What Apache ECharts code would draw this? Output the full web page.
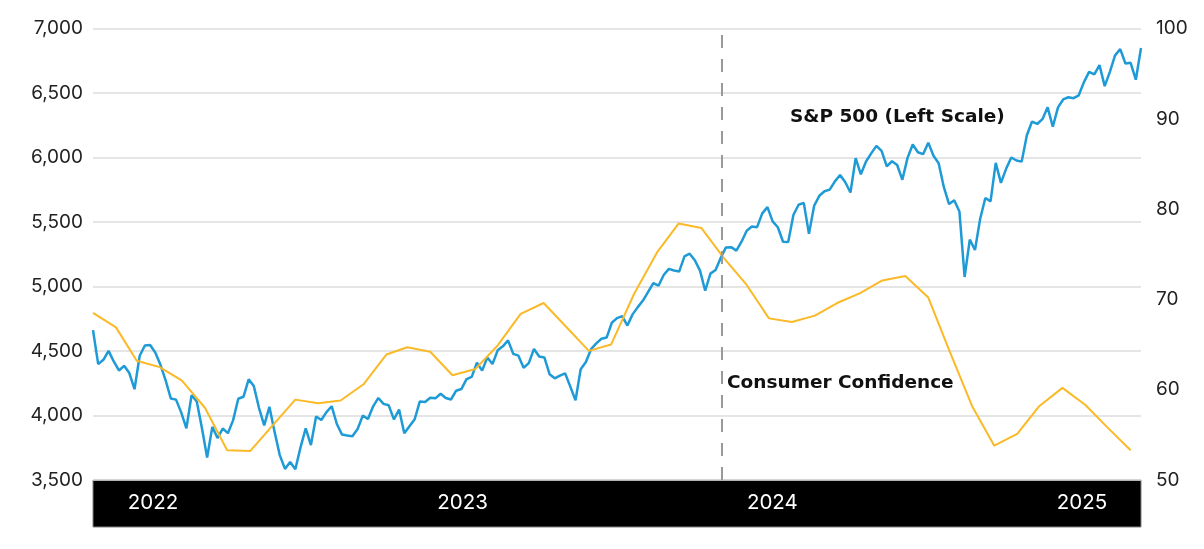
<!DOCTYPE html>
<html>
<head>
<meta charset="utf-8">
<script src="https://cdn.jsdelivr.net/npm/echarts@6/dist/echarts.min.js"></script>
<style>
html,body{margin:0;padding:0;background:#fff;}
#chart{width:1204px;height:549px;}
</style>
</head>
<body>
<div id="chart"></div>
<script>
// ---- Data ----
// S&P 500 weekly closes, first week ending 2022-01-14
const spxFirstWeek = '2022-01-14';
const spx2022 = [4662,4398,4432,4501,4419,4349,4385,4329,4204,4463,4543,4546,4488,4393,4272,4132,4123,4024,3901,4158,4109,3901,3675,3912,3825,3899,3863,3962,4130,4145,4280,4228,4058,3924,4067,3873,3693,3586,3640,3583,3753,3901,3771,3993,3965,4026,4072,3934,3852,3845,3840];
const spx2023 = [3895,3999,3973,4071,4136,4090,4079,3970,4046,3862,3917,3971,4109,4105,4138,4133,4169,4136,4124,4192,4205,4282,4299,4410,4348,4450,4399,4505,4536,4582,4478,4464,4370,4406,4516,4457,4450,4320,4288,4309,4327,4224,4117,4358,4415,4514,4559,4595,4604,4719,4755,4770];
const spx2024 = [4697,4784,4840,4891,4959,5027,5006,5089,5137,5124,5117,5234,5254,5204,5123,4967,5100,5128,5223,5303,5305,5278,5347,5432,5465,5460,5567,5615,5505,5459,5347,5344,5554,5634,5648,5408,5626,5703,5738,5751,5815,5864,5808,5729,5995,5870,5969,6032,6090,6051,5931,5971];
const spx2025 = [5942,5827,5997,6101,6041,6026,6115,6013,5955,5770,5639,5668,5581,5074,5363,5283,5525,5686,5660,5958,5803,5912,6000,5977,5968,6173,6279,6260,6297,6389,6238,6389,6450,6467,6460,6482,6584,6664,6644,6716,6553,6664,6792,6840,6729,6734,6603,6849];

// Consumer confidence, monthly (mid-month), Jan 2022 - Nov 2025
const cc2022 = [68.5,66.9,63.2,62.5,61.0,58.0,53.3,53.2,56.1,58.9,58.5,58.8];
const cc2023 = [60.6,63.9,64.7,64.2,61.6,62.3,64.9,68.4,69.6,67.0,64.3,65.0];
const cc2024 = [70.6,75.2,78.4,77.9,74.6,71.6,67.9,67.5,68.2,69.6,70.7,72.1];
const cc2025 = [72.6,70.2,64.4,58.2,53.8,55.1,58.2,60.2,58.3,55.8,53.3];

const yearLabels = ['2022','2023','2024','2025'];
const leftTicks = [3500,4000,4500,5000,5500,6000,6500,7000];
const rightTicks = [50,60,70,80,90,100];
const markerDate = '2024-05-11';
const spxLabel = 'S&P 500 (Left Scale)';
const ccLabel = 'Consumer Confidence';

// ---- Build series data ----
const DAY = 86400000;
function utc(s){const p=s.split('-').map(Number);return Date.UTC(p[0],p[1]-1,p[2]);}
const t0 = utc(spxFirstWeek);
const spxValues = [].concat(spx2022, spx2023, spx2024, spx2025);
const spxData = spxValues.map((v,i)=>[t0 + i*7*DAY, v]);
const tEnd = spxData[spxData.length-1][0];
const ccValues = [].concat(cc2022, cc2023, cc2024, cc2025);
const ccData = ccValues.map((v,i)=>[Date.UTC(2022, i, 14), v]);

const axisFont = 'Inter, "Liberation Sans", sans-serif';
const boldFont = 'bold 18.5px "DejaVu Sans", sans-serif';

const chart = echarts.init(document.getElementById('chart'), null, {renderer:'canvas'});
chart.setOption({
  animation:false,
  backgroundColor:'#ffffff',
  grid:[
    {left:93, right:63, top:28.5, bottom:69},
    {left:93, right:63, top:480, height:47, show:true, backgroundColor:'#000000', borderColor:'#808080', borderWidth:1, z:0},
    {left:153, right:122, top:480, height:47}
  ],
  xAxis:[
    {type:'time', gridIndex:0, min:t0, max:tEnd, show:false},
    {type:'value', gridIndex:1, show:false},
    {type:'category', gridIndex:2, data:yearLabels, boundaryGap:false, position:'top', z:10,
     axisLine:{show:false}, axisTick:{show:false}, splitLine:{show:false},
     axisLabel:{inside:true, interval:0, verticalAlign:'middle', margin:23, color:'#ffffff', fontSize:20.5, fontFamily:axisFont}}
  ],
  yAxis:[
    {type:'value', gridIndex:0, min:leftTicks[0], max:leftTicks[leftTicks.length-1], interval:leftTicks[1]-leftTicks[0],
     axisLine:{show:false}, axisTick:{show:false},
     splitLine:{show:true, lineStyle:{color:'#dddddd', width:1.5}},
     axisLabel:{margin:10, color:'#222222', fontSize:19, fontFamily:axisFont, padding:[0,0,5,0],
       formatter:v=>v.toLocaleString('en-US')}},
    {type:'value', gridIndex:0, position:'right', min:rightTicks[0], max:rightTicks[rightTicks.length-1], interval:rightTicks[1]-rightTicks[0],
     axisLine:{show:false}, axisTick:{show:false}, splitLine:{show:false},
     axisLabel:{margin:15, color:'#222222', fontSize:19, fontFamily:axisFont, padding:[0,0,5,0]}},
    {type:'value', gridIndex:1, show:false},
    {type:'value', gridIndex:2, show:false}
  ],
  series:[
    {type:'line', name:spxLabel, xAxisIndex:0, yAxisIndex:0, data:spxData, showSymbol:false, z:3,
     lineStyle:{color:'#1e9ad6', width:2.5},
     markLine:{silent:true, symbol:['none','none'], label:{show:false},
       lineStyle:{color:'#9a9a9a', type:[13,11], width:2},
       data:[{xAxis:utc(markerDate)}]}},
    {type:'line', name:ccLabel, xAxisIndex:0, yAxisIndex:1, data:ccData, showSymbol:false, z:4,
     lineStyle:{color:'#fbb927', width:2}}
  ],
  graphic:[
    {type:'text', x:790, y:117, z:20, style:{text:spxLabel, font:boldFont, fill:'#111111', verticalAlign:'middle'}},
    {type:'text', x:727, y:383, z:20, style:{text:ccLabel, font:boldFont, fill:'#111111', verticalAlign:'middle'}}
  ]
});
</script>
</body>
</html>
